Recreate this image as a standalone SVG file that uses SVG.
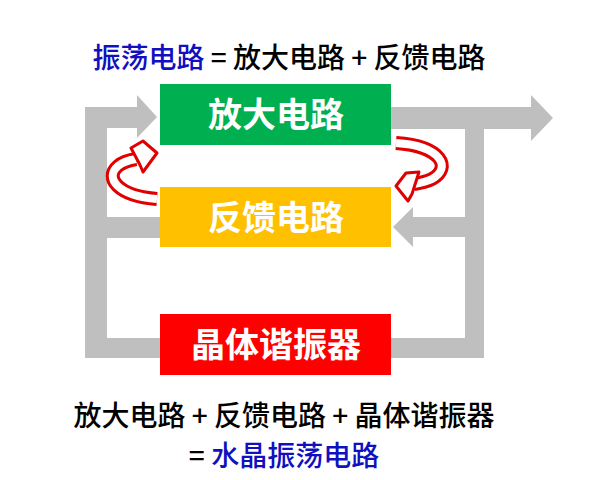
<svg xmlns="http://www.w3.org/2000/svg" width="600" height="480" viewBox="0 0 600 480">
<style>
.t{font-family:"Noto Sans CJK SC","Liberation Sans",sans-serif}
.bx{font-size:34px;fill:#fff;text-anchor:middle;font-weight:bold}
.cap{font-size:28px;fill:#000;font-weight:500}
.blue{fill:#1010c0}
.g{fill:#bfbfbf}
.rb{fill:none;stroke:#e00000;stroke-width:14}
.wb{fill:none;stroke:#fff;stroke-width:8}
.ah{fill:#fff;stroke:#e00000;stroke-width:3;stroke-linejoin:round}
</style>
<rect width="600" height="480" fill="#fff"/>
<g id="connectors">
<rect class="g" x="85" y="107" width="22" height="251"/>
<rect class="g" x="85" y="107" width="55" height="21"/>
<polygon class="g" points="137,95 157,117 137,138"/>
<rect class="g" x="107" y="217" width="53" height="21"/>
<rect class="g" x="85" y="338" width="75" height="20"/>
<rect class="g" x="391" y="107" width="142" height="22"/>
<polygon class="g" points="531,95 553,118 531,141"/>
<rect class="g" x="465" y="128" width="19" height="230"/>
<rect class="g" x="391" y="338" width="93" height="20"/>
<rect class="g" x="410" y="217" width="55" height="20"/>
<polygon class="g" points="413,207 393,227 413,247"/>
<path class="rb" d="M157,199 C118,196 104,178 118,166 C124,161 130,160 136,159"/>
<path class="wb" d="M157,199 C118,196 104,178 118,166 C124,161 130,160 136,159"/>
<polygon class="ah" points="131,148 143,141 157,153 143,172 140,165"/>
<path class="rb" d="M396,143 C442,146 452,168 432,179 C426,182 420,183 414,184"/>
<path class="wb" d="M396,143 C442,146 452,168 432,179 C426,182 420,183 414,184"/>
<polygon class="ah" points="419,172 406,173 396,186 408,201 412,194"/>
</g>
<g id="amp"><rect x="160" y="84" width="231" height="61" fill="#00b050"/><text class="t bx" x="276" y="127">放大电路</text></g>
<g id="fb"><rect x="160" y="187" width="231" height="60" fill="#ffc000"/><text class="t bx" x="276" y="230">反馈电路</text></g>
<g id="xtal"><rect x="160" y="314" width="231" height="61" fill="#ff0000"/><text class="t bx" x="276" y="357">晶体谐振器</text></g>
<g id="captions">
<text class="t cap" x="289" y="68" text-anchor="middle"><tspan class="blue">振荡电路</tspan> = 放大电路 + 反馈电路</text>
<text class="t cap" x="284" y="426" text-anchor="middle">放大电路 + 反馈电路 + 晶体谐振器</text>
<text class="t cap" x="284" y="466" text-anchor="middle">= <tspan class="blue">水晶振荡电路</tspan></text>
</g>
</svg>
